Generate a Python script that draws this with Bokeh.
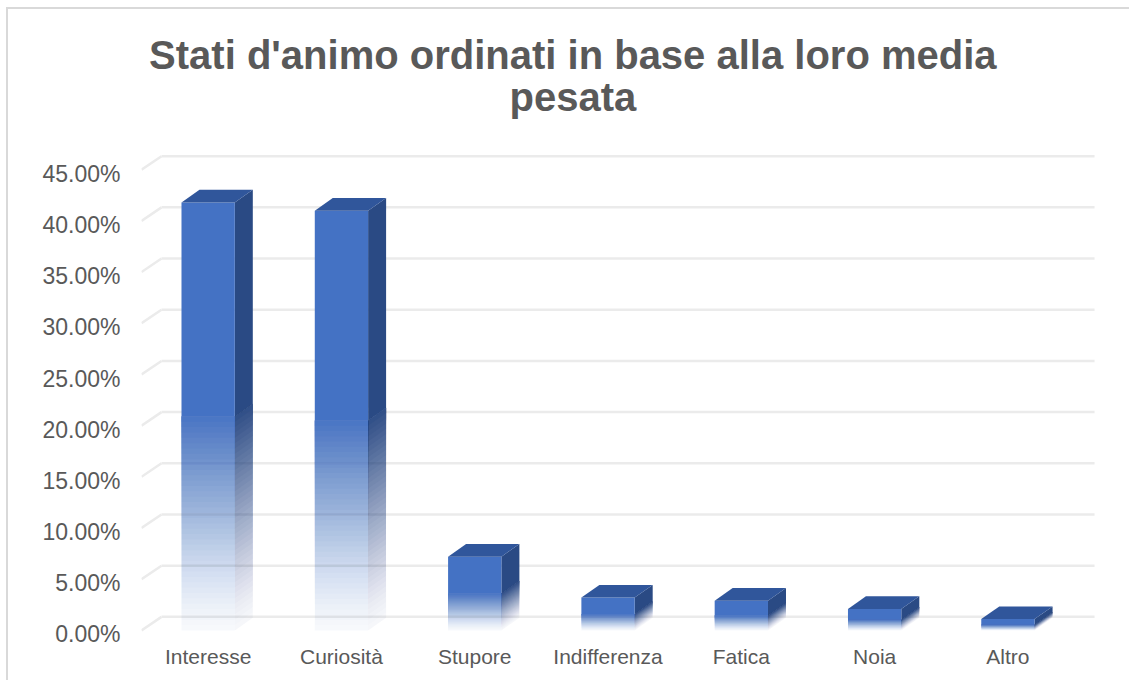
from bokeh.plotting import figure
from bokeh.models import ColumnDataSource, FixedTicker, Label, Range1d, LinearAxis
from bokeh.embed import file_html
from bokeh.resources import INLINE

# ---------------- data ----------------
categories = ["Interesse", "Curiosità", "Stupore", "Indifferenza", "Fatica", "Noia", "Altro"]
values = [41.8, 41.0, 7.2, 3.2, 2.9, 2.1, 1.1]          # percent
y_ticks = [0, 5, 10, 15, 20, 25, 30, 35, 40, 45]
y_tick_labels = ["0.00%", "5.00%", "10.00%", "15.00%", "20.00%",
                 "25.00%", "30.00%", "35.00%", "40.00%", "45.00%"]
title_lines = ["Stati d'animo ordinati in base alla loro media", "pesata"]

# ---------------- style / geometry ----------------
FRONT = "#4472C4"
TOP = "#30569B"
SIDE = "#2A4A84"
GRID = "#EBEBEB"
TEXT = "#595959"
HW = 0.2          # half bar width (x units)
BDX, BDY = 0.135, 1.24   # bar depth offset
FDX, FDY = 0.15, 1.32    # floor/back wall offset
N = 40            # gradient layers
Y0, Y1 = -0.5, 60.45
LABEL_SHIFT = 0.4  # labels sit slightly below the front floor edge (3D look)


def opacity(t):
    # target opacity of the fading lower half (t = 0 bottom, 1 middle of bar)
    return 0.04 + 0.92 * t ** 1.25


layer_alpha = []
prev = 0.0
for k in range(N):
    target = opacity((k + 0.5) / N)
    layer_alpha.append(1 - (1 - target) / (1 - prev))
    prev = target

p = figure(width=1123, height=673, output_backend="svg", toolbar_location=None,
           x_range=Range1d(-0.5, 6.687), y_range=Range1d(Y0, Y1),
           y_axis_location=None,
           min_border_left=133, min_border_right=32, min_border_top=2,
           min_border_bottom=47)
p.styles = {"border-top": "2px solid #D9D9D9", "border-left": "2px solid #D9D9D9",
            "margin-left": "6px", "margin-top": "7px"}
p.outline_line_color = None
p.xgrid.visible = False
p.ygrid.visible = False
p.background_fill_color = "white"
p.border_fill_color = "white"

# back-wall gridlines with the diagonal floor edge
gx0, gx1, gy0, gy1 = [], [], [], []
for t in y_ticks:
    gx0 += [-0.5, -0.5 + FDX]
    gy0 += [t, t + FDY]
    gx1 += [-0.5 + FDX, 6.5 + FDX]
    gy1 += [t + FDY, t + FDY]
p.segment(gx0, gy0, gx1, gy1, line_color=GRID, line_width=2.5)

# bars
fl, fr, fb, ft, fa = [], [], [], [], []
sxs, sys, sa = [], [], []
txs, tys = [], []
for i, v in enumerate(values):
    x = i
    half = v * 0.5
    fl.append(x - HW); fr.append(x + HW); fb.append(half); ft.append(v); fa.append(1.0)
    sxs.append([x + HW, x + HW, x + HW + BDX, x + HW + BDX])
    sys.append([half, v, v + BDY, half + BDY])
    sa.append(1.0)
    for k in range(N):
        y0 = half * k / N
        fl.append(x - HW); fr.append(x + HW); fb.append(y0); ft.append(half); fa.append(layer_alpha[k])
        sxs.append([x + HW, x + HW, x + HW + BDX, x + HW + BDX])
        sys.append([y0, half, half + BDY, y0 + BDY])
        sa.append(layer_alpha[k])
    txs.append([x - HW, x + HW, x + HW + BDX, x - HW + BDX])
    tys.append([v, v, v + BDY, v + BDY])

front_src = ColumnDataSource(dict(left=fl, right=fr, bottom=fb, top=ft, alpha=fa))
side_src = ColumnDataSource(dict(xs=sxs, ys=sys, alpha=sa))
top_src = ColumnDataSource(dict(xs=txs, ys=tys))

p.patches("xs", "ys", source=side_src, fill_color=SIDE, fill_alpha="alpha", line_color=None)
p.quad(left="left", right="right", bottom="bottom", top="top", source=front_src,
       fill_color=FRONT, fill_alpha="alpha", line_color=None)
p.patches("xs", "ys", source=top_src, fill_color=TOP, line_color=None)

# y axis (percent labels)
p.extra_y_ranges = {"lab": Range1d(Y0 + LABEL_SHIFT, Y1 + LABEL_SHIFT)}
yax = LinearAxis(y_range_name="lab")
yax.ticker = FixedTicker(ticks=y_ticks)
yax.major_label_overrides = {t: s for t, s in zip(y_ticks, y_tick_labels)}
p.add_layout(yax, "left")

# x axis (categories)
p.xaxis.ticker = FixedTicker(ticks=list(range(len(categories))))
p.xaxis.major_label_overrides = {i: c for i, c in enumerate(categories)}

for ax in (p.xaxis[0], yax):
    ax.axis_line_color = None
    ax.major_tick_line_color = None
    ax.minor_tick_line_color = None
    ax.major_tick_out = 0
    ax.major_label_text_color = TEXT
    ax.major_label_text_font = "Liberation Sans"
p.xaxis.major_label_text_font_size = "21px"
p.xaxis.major_label_standoff = 9
yax.major_label_text_font_size = "23px"
yax.major_label_standoff = 21

# title
for y, line in zip([56.2, 52.1], title_lines):
    p.add_layout(Label(x=2.736, y=y, text=line, text_align="center",
                       text_baseline="alphabetic", text_font="Liberation Sans",
                       text_font_size="40px", text_font_style="bold",
                       text_color=TEXT))

open("out.html", "w").write(file_html(p, INLINE))
